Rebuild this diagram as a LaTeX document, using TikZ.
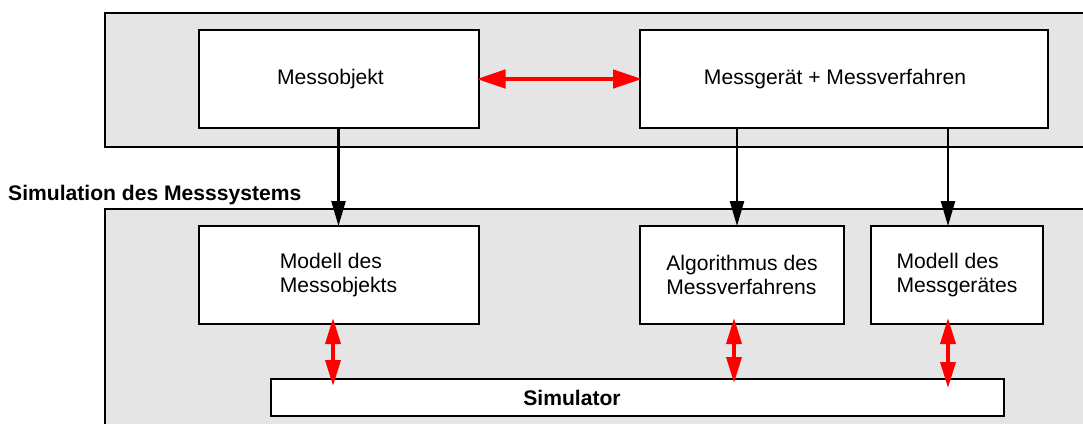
\documentclass[tikz,border=0pt]{standalone}
\usepackage{fontspec}
\setmainfont{Liberation Sans}
\usetikzlibrary{arrows.meta}
\definecolor{panel}{HTML}{E5E5E5}
\definecolor{arrred}{HTML}{FF0000}
\begin{document}
\begin{tikzpicture}[x=1pt,y=-1pt,
  panelbox/.style={draw=black,line width=2pt,fill=panel},
  blockbox/.style={draw=black,line width=2pt,fill=white,inner sep=0pt,outer sep=0pt,
    align=left,font=\fontsize{21.1}{24.5}\selectfont},
  flowarrow/.style={draw=black,line width=2.5pt,-{Triangle[length=25pt,width=14pt]}},
  linkarrow/.style={draw=arrred,line width=3.5pt,{Triangle[length=26pt,width=15pt]}-{Triangle[length=26pt,width=15pt]}},
  toparrow/.style={draw=arrred,line width=4.5pt,{Triangle[length=29pt,width=18pt]}-{Triangle[length=29pt,width=18pt]}},
  caption/.style={font=\bfseries\fontsize{21.1}{24.5}\selectfont,inner sep=0pt,anchor=west}
]
\useasboundingbox (0,0) rectangle (1083,423);
\clip (0,0) rectangle (1083,423);
\fill[white] (0,0) rectangle (1083,423);

% panels
\path[panelbox] (105,13) rectangle (1100,147);
\path[panelbox] (105,209) rectangle (1100,450);

\node[caption] (cap) at (8,195) {Simulation des Messsystems};

% boxes
\node[blockbox,minimum width=280pt,minimum height=98pt] (mo) at (338.5,79) {Messobjekt\hspace{16pt}};
\node[blockbox,minimum width=408pt,minimum height=98pt] (mg) at (844,79) {Messgerät + Messverfahren\hspace{18pt}};
\node[blockbox,minimum width=280pt,minimum height=98pt] (mmo) at (338.5,275) {Modell des\\Messobjekts\hspace{4pt}};
\node[blockbox,minimum width=204pt,minimum height=98pt] (alg) at (742,275) {Algorithmus des\\Messverfahrens\hspace{8pt}};
\node[blockbox,minimum width=172pt,minimum height=98pt] (mmg) at (957,275) {Modell des\\Messgerätes};
\node[blockbox,minimum width=733pt,minimum height=37pt,font=\bfseries\fontsize{21.1}{24.5}\selectfont] (sim) at (637.5,397.5) {Simulator\hspace{131pt}};

% helper x positions
\coordinate (xa) at (737,0);
\coordinate (xb) at (948,0);
\coordinate (ra) at (333,0);
\coordinate (rb) at (734,0);
\coordinate (rc) at (948,0);

% black flow arrows
\draw[flowarrow] (mo.south) -- (mmo.north);
\draw[flowarrow] (mg.south -| xa) -- (alg.north -| xa);
\draw[flowarrow] (mg.south -| xb) -- (mmg.north -| xb);

% red link arrows
\draw[toparrow,shorten <=-2pt,shorten >=-2pt] (mo.east) -- (mg.west);
\draw[linkarrow,shorten <=-6pt,shorten >=-7pt] (mmo.south -| ra) -- (sim.north -| ra);
\draw[linkarrow,shorten <=-6pt,shorten >=-4pt] (alg.south -| rb) -- (sim.north -| rb);
\draw[linkarrow,shorten <=-6pt,shorten >=-9pt] (mmg.south -| rc) -- (sim.north -| rc);
\end{tikzpicture}
\end{document}
